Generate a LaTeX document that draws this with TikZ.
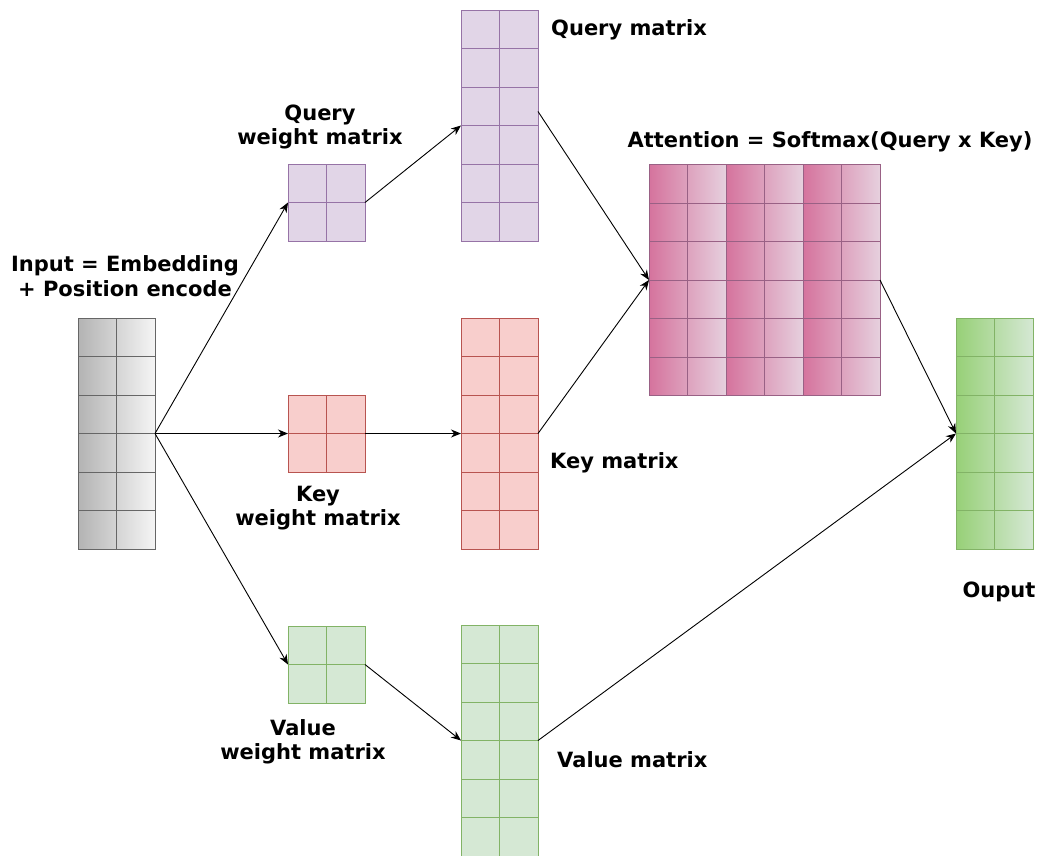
\documentclass[tikz,border=0pt]{standalone}
\usepackage{fontspec}
\setmainfont{DejaVu Sans}
\usetikzlibrary{positioning,calc,arrows.meta}

\definecolor{graydark}{HTML}{B3B3B3}
\definecolor{graylight}{HTML}{F5F5F5}
\definecolor{grayline}{HTML}{666666}
\definecolor{purplefill}{HTML}{E1D5E7}
\definecolor{purpleline}{HTML}{9673A6}
\definecolor{redfill}{HTML}{F8CECC}
\definecolor{redline}{HTML}{B85450}
\definecolor{greenfill}{HTML}{D5E8D4}
\definecolor{greendark}{HTML}{97D077}
\definecolor{greenline}{HTML}{82B366}
\definecolor{pinkdark}{HTML}{D5739D}
\definecolor{pinklight}{HTML}{E6D0DE}
\definecolor{pinkline}{HTML}{996185}

\tikzset{
  % matrix block: columns, rows, line colour
  mat/.style n args={3}{draw=#3, line width=0.9pt, inner sep=0pt, outer sep=0pt,
    minimum width=#1*38.5pt, minimum height=#2*38.5pt,
    path picture={
      \foreach \i in {1,...,#1}
        \draw[#3, line width=0.9pt]
          ($(path picture bounding box.north west)!\i/#1!(path picture bounding box.north east)$) --
          ($(path picture bounding box.south west)!\i/#1!(path picture bounding box.south east)$);
      \foreach \j in {1,...,#2}
        \draw[#3, line width=0.9pt]
          ($(path picture bounding box.north west)!\j/#2!(path picture bounding box.south west)$) --
          ($(path picture bounding box.north east)!\j/#2!(path picture bounding box.south east)$);
    }},
  lbl/.style={font=\fontsize{21}{24.5}\selectfont\bfseries, inner sep=0pt, align=center}
}

\begin{document}
\begin{tikzpicture}[x=1pt, y=-1pt, >={Stealth[length=10pt,width=8pt]}]
        \useasboundingbox (0,0) rectangle (1038,855);

        % Input
        \node[mat={2}{6}{grayline}, left color=graydark, right color=graylight] (input) at (116.5,433.5) {};
        \node[lbl] (inlab) at (125,276) {Input = Embedding\\+ Position encode};

        % Weight matrices
        \node[mat={2}{2}{redline}, fill=redfill, right=133pt of input] (kw) {};
        \node[mat={2}{2}{purpleline}, fill=purplefill, above=154pt of kw] (qw) {};
        \node[mat={2}{2}{greenline}, fill=greenfill, below=154pt of kw] (vw) {};
        \node[lbl] (qwlab) at (320,127) {Query\\weight matrix};
        \node[lbl] (kwlab) at (318,508) {Key\\weight matrix};
        \node[lbl] (vwlab) at (303,742) {Value\\weight matrix};

        % Query, Key, Value
        \node[mat={2}{6}{redline}, fill=redfill, right=96pt of kw] (km) {};
        \node[mat={2}{6}{purpleline}, fill=purplefill, above=77pt of km] (qm) {};
        \node[mat={2}{6}{greenline}, fill=greenfill, below=76pt of km] (vm) {};
        \node[lbl, anchor=west] (qmlab) at (551,30) {Query matrix};
        \node[lbl, anchor=west] (kmlab) at (550,463) {Key matrix};
        \node[lbl, anchor=west] (vmlab) at (557,760) {Value matrix};

        % Attention
        \node[mat={2}{6}{pinkline}, left color=pinkdark, right color=pinklight] (att1) at (687.5,280) {};
        \node[mat={2}{6}{pinkline}, left color=pinkdark, right color=pinklight, right=0pt of att1] (att2) {};
        \node[mat={2}{6}{pinkline}, left color=pinkdark, right color=pinklight, right=0pt of att2] (att3) {};
        \node[lbl] (attlab) at (830,142) {Attention = Softmax(Query x Key)};

        % Output
        \node[mat={2}{6}{greenline}, left color=greendark, right color=greenfill, right=418pt of km] (out) {};
        \node[lbl] (outlab) at (999,592) {Ouput};

        % Connections
        \draw[->, line width=0.9pt] (input.east) -- (qw.west);
        \draw[->, line width=0.9pt] (input.east) -- (kw.west);
        \draw[->, line width=0.9pt] (input.east) -- (vw.west);
        \draw[->, line width=0.9pt] (qw.east) -- (qm.west);
        \draw[->, line width=0.9pt] (kw.east) -- (km.west);
        \draw[->, line width=0.9pt] (vw.east) -- (vm.west);
        \draw[->, line width=0.9pt] (qm.20) -- (att1.west);
        \draw[->, line width=0.9pt] (km.east) -- (att1.west);
        \draw[->, line width=0.9pt] (att3.east) -- (out.west);
        \draw[->, line width=0.9pt] (vm.east) -- (out.west);

\end{tikzpicture}
\end{document}
